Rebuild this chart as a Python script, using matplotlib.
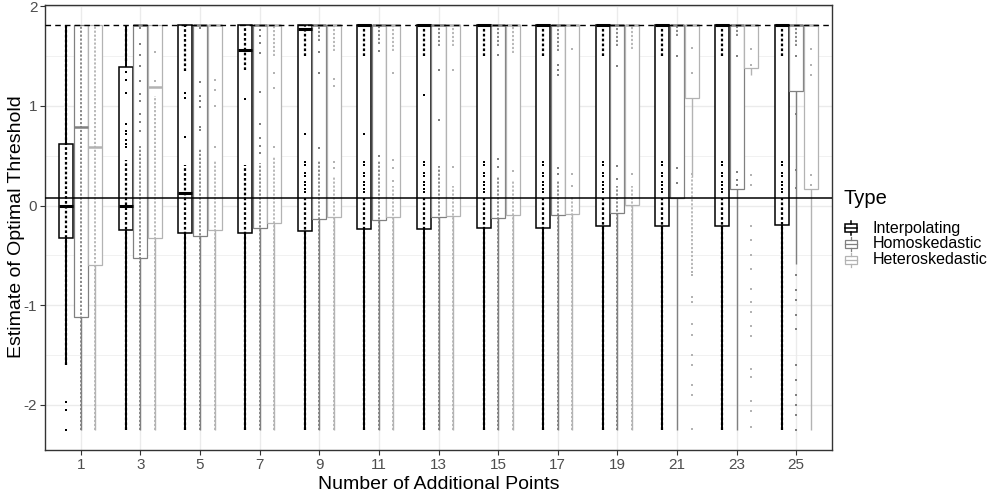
import matplotlib
matplotlib.use("Agg")
import matplotlib.pyplot as plt
from matplotlib.patches import Rectangle
from matplotlib.lines import Line2D

plt.rcParams["font.family"] = ["Liberation Sans", "DejaVu Sans"]
plt.rcParams["axes.unicode_minus"] = False

# ---- data -----------------------------------------------------------------
groups = ["1", "3", "5", "7", "9", "11", "13", "15", "17", "19", "21", "23", "25"]
types = ["Interpolating", "Homoskedastic", "Heteroskedastic"]
type_colors = ["#000000", "#808080", "#b3b3b3"]

upper_ref = 1.81   # dashed reference line
true_ref = 0.08    # solid reference line

interp_q1 = [-0.33, -0.25, -0.28, -0.28, -0.26, -0.24, -0.24, -0.23, -0.23, -0.20, -0.20, -0.20, -0.19]
interp_med = [0.0, 0.0, 0.13, 1.56, 1.77, 1.81, 1.81, 1.81, 1.81, 1.81, 1.81, 1.81, 1.81]
interp_q3 = [0.62, 1.39, 1.81, 1.81, 1.81, 1.81, 1.81, 1.81, 1.81, 1.81, 1.81, 1.81, 1.81]
interp_lo = [-1.60, -2.25, -2.25, -2.25, -2.25, -2.25, -2.25, -2.25, -2.25, -2.25, -2.25, -2.25, -2.25]
interp_hi = [1.81] * 13
_steps = [0.44, 0.41, 0.33, 0.30, 0.24, 0.21, 0.17, 0.14]
interp_pts = [
    [-1.97, -2.05, -2.25],
    [1.34, 1.26, 1.13, 0.82, 0.75, 0.72, 0.66, 0.62, 0.59],
    [1.13, 1.08, 0.69],
    [1.07],
    [0.72] + _steps,
    [0.72] + _steps,
    [1.11] + _steps,
    _steps, _steps, _steps, _steps, _steps, _steps,
]
interp_dense = [
    [(-1.60, 1.81)],
    [(1.45, 1.81), (-2.25, 0.46)],
    [(1.35, 1.81), (-2.25, 0.41)],
    [(1.36, 1.81), (-2.25, 0.41)],
] + [[(1.50, 1.81), (-2.25, 0.08)]] * 9

homo_q1 = [-1.12, -0.53, -0.31, -0.23, -0.13, -0.14, -0.11, -0.12, -0.09, -0.07, 0.08, 0.17, 1.15]
homo_med = [0.79] + [1.81] * 12
homo_q3 = [1.81] * 13
homo_lo = [-2.25] * 12 + [-0.59]
homo_hi = [1.81] * 13
homo_pts = [
    [],
    [1.78, 1.62, 1.51, 1.40, 1.25, 1.12, 1.05, 0.92, 0.84, 0.75],
    [1.78, 1.24, 1.10, 1.05, 0.99, 0.79, 0.76],
    [1.76, 1.70, 1.63, 1.53, 1.14, 0.82, 0.68, 0.60, 0.53],
    [1.54, 1.33, 0.58],
    [1.55, 0.50],
    [1.36, 0.86],
    [1.51, 0.47, 0.39],
    [1.41, 1.36, 1.31, 0.38, 0.32],
    [1.40, 0.40, 0.27],
    [1.50, 0.38, 0.23],
    [1.50, 0.34, 0.26, 0.21],
    [1.50, 0.92, 0.36, 0.18, -0.70, -0.85, -0.95, -1.10, -1.24,
     -1.60, -1.75, -1.90, -2.00, -2.10, -2.25],
]
homo_dense = [
    [(-2.25, 1.81)],
    [(-2.25, 0.60)],
    [(-2.25, 0.58)],
    [(-2.25, 0.43)],
    [(1.65, 1.81), (-2.25, 0.45)],
    [(1.62, 1.81), (-2.25, 0.45)],
    [(1.60, 1.81), (-2.25, 0.40)],
    [(1.60, 1.81), (-2.25, 0.30)],
    [(1.55, 1.81), (-2.25, 0.25)],
    [(1.60, 1.81), (-2.25, 0.20)],
    [(1.70, 1.81)],
    [(1.70, 1.81)],
    [(1.60, 1.81)],
]

hetero_q1 = [-0.60, -0.33, -0.25, -0.17, -0.11, -0.11, -0.10, -0.09, -0.08, 0.01, 1.08, 1.38, 0.17]
hetero_med = [0.59, 1.19] + [1.81] * 11
hetero_q3 = [1.81] * 13
hetero_lo = [-2.25] * 10 + [0.29, 1.31, -2.25]
hetero_hi = [1.81] * 13
hetero_pts = [
    [],
    [1.54, 1.25],
    [1.26, 1.16, 1.00, 0.59],
    [1.33, 1.18, 0.59],
    [1.27, 1.20, 0.44, 0.38],
    [1.33, 0.46, 0.38, 0.25],
    [1.36, 0.39],
    [0.35],
    [1.57, 0.32, 0.20],
    [0.32],
    [1.58, 1.33, 0.32, -0.67, -0.70, -0.92, -0.97, -1.19, -1.30,
     -1.50, -1.60, -1.80, -1.90, -2.24],
    [1.57, 1.41, 0.31, 0.21, -0.20, -0.35, -0.50, -0.64, -0.84, -0.97,
     -1.07, -1.21, -1.31, -1.64, -1.72, -1.96, -2.06, -2.22],
    [1.57, 1.41, 1.31, 0.31, 0.21],
]
hetero_dense = [
    [(-2.25, 1.81)],
    [(-2.25, 1.10)],
    [(-2.25, 0.45)],
    [(1.50, 1.81), (-2.25, 0.50)],
    [(1.55, 1.81), (-2.25, 0.30)],
    [(1.55, 1.81), (-2.25, 0.20)],
    [(1.60, 1.81), (-2.25, 0.20)],
    [(1.53, 1.81), (-2.25, 0.25)],
    [(-2.25, 0.10)],
    [(1.57, 1.81), (-2.25, 0.20)],
    [(-0.64, 0.29)],
    [],
    [],
]

series = [
    (interp_q1, interp_med, interp_q3, interp_lo, interp_hi, interp_pts, interp_dense),
    (homo_q1, homo_med, homo_q3, homo_lo, homo_hi, homo_pts, homo_dense),
    (hetero_q1, hetero_med, hetero_q3, hetero_lo, hetero_hi, hetero_pts, hetero_dense),
]

# ---- figure ---------------------------------------------------------------
fig = plt.figure(figsize=(10, 5), dpi=100)
ax = fig.add_axes([0.045, 0.10, 0.787, 0.89])

offsets = [-0.245, 0.0, 0.245]
box_w = 0.235
line_w = [1.1, 0.9, 0.9]
whisk_w = [1.4, 1.0, 1.0]

for k, (q1, med, q3, lo, hi, pts, dense) in enumerate(series):
    col = type_colors[k]
    for i in range(len(groups)):
        x = i + offsets[k]
        ax.vlines(x, lo[i], q1[i], color=col, lw=whisk_w[k], zorder=2)
        ax.vlines(x, q3[i], hi[i], color=col, lw=whisk_w[k], zorder=2)
        ax.add_patch(Rectangle((x - box_w / 2, q1[i]), box_w, q3[i] - q1[i],
                               facecolor="white", edgecolor=col,
                               lw=line_w[k], zorder=3))
        ax.hlines(med[i], x - box_w / 2, x + box_w / 2, color=col,
                  lw=line_w[k] * 2, zorder=4)

for k, (q1, med, q3, lo, hi, pts, dense) in enumerate(series):
    col = type_colors[k]
    for i in range(len(groups)):
        x = i + offsets[k]
        for a, b in dense[i]:
            ax.vlines(x, a, b, color=col, lw=1.6 if k == 0 else 1.3,
                      linestyles=(0, (1.2, 1.0)), zorder=5)
        if pts[i]:
            ax.plot([x] * len(pts[i]), pts[i], "s", ms=2.0, mew=0,
                    color=col, zorder=6)

ax.axhline(upper_ref, color="black", lw=1.0, ls=(0, (4, 3)), zorder=7)
ax.axhline(true_ref, color="black", lw=1.1, zorder=7)

ax.set_xlim(-0.6, len(groups) - 0.4)
ax.set_ylim(-2.453, 2.013)
ax.set_xticks(range(len(groups)))
ax.set_xticklabels(groups)
ax.set_yticks([-2, -1, 0, 1, 2])
ax.set_yticks([-1.5, -0.5, 0.5, 1.5], minor=True)
ax.grid(True, which="major", color="#ebebeb", lw=1.0, zorder=0)
ax.grid(True, which="minor", axis="y", color="#ebebeb", lw=0.5, zorder=0)
ax.set_axisbelow(True)
ax.tick_params(axis="both", which="major", length=3.5, width=0.8,
               color="#333333", labelcolor="#4d4d4d", labelsize=11, pad=2)
ax.tick_params(axis="y", which="minor", length=0)
for s in ax.spines.values():
    s.set_color("#333333")
    s.set_linewidth(1.0)

ax.set_xlabel("Number of Additional Points", fontsize=14, labelpad=3)


# ---- legend (boxplot key glyphs) ------------------------------------------
def fx(px):
    return px / 1000.0


def fy(py):
    return 1 - py / 500.0


fig.text(fx(17), fy(227), "Estimate of Optimal Threshold", fontsize=14,
         rotation=90, va="center", ha="center")

fig.text(fx(843), fy(199), "Type", fontsize=14.5, va="center", ha="left")
for k, name in enumerate(types):
    cy = 228 + 16 * k
    col = type_colors[k]
    tr = fig.transFigure
    fig.add_artist(Rectangle((fx(845), fy(cy + 4)), fx(12), 8 / 500.0,
                             transform=tr, facecolor="white", edgecolor=col,
                             lw=line_w[k]))
    fig.add_artist(Line2D([fx(845), fx(857)], [fy(cy), fy(cy)], transform=tr,
                          color=col, lw=line_w[k]))
    fig.add_artist(Line2D([fx(851), fx(851)], [fy(cy - 4), fy(cy - 7)],
                          transform=tr, color=col, lw=line_w[k]))
    fig.add_artist(Line2D([fx(851), fx(851)], [fy(cy + 4), fy(cy + 7)],
                          transform=tr, color=col, lw=line_w[k]))
    fig.text(fx(873), fy(cy), name, fontsize=11.5, va="center", ha="left")

fig.savefig("out.png", dpi=100)
